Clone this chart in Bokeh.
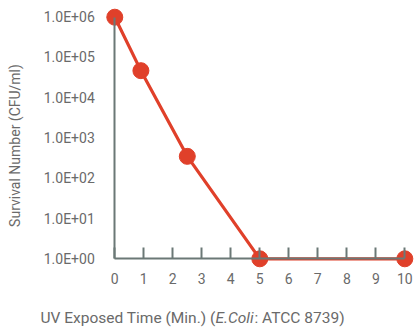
import math
from bokeh.plotting import figure
from bokeh.models import Label, FixedTicker, Range1d, CustomJSTickFormatter
from bokeh.embed import file_html
from bokeh.resources import INLINE

# data
exposure_min = [0, 0.9, 2.5, 5, 10]
survival_cfu = [1.0e6, 4.7e4, 3.5e2, 1.0, 1.0]
x_ticks = [0, 1, 2, 3, 4, 5, 6, 7, 8, 9, 10]
y_ticks = [1, 10, 100, 1000, 10000, 100000, 1000000]
y_tick_labels = ["1.0E+00", "1.0E+01", "1.0E+02", "1.0E+03", "1.0E+04", "1.0E+05", "1.0E+06"]

RED = "#e0402a"
AXIS = "#6b7876"
TXT = "#6a6a6a"
FONT = "Roboto"

p = figure(width=414, height=329, y_axis_type="log", output_backend="svg",
           toolbar_location=None,
           x_range=Range1d(-3.941, 10.334),
           y_range=Range1d(10 ** -1.7557, 10 ** 6.4147),
           min_border=0)
p.outline_line_color = None
p.grid.visible = False
p.background_fill_color = "white"
p.border_fill_color = "white"

p.line(exposure_min, survival_cfu, line_color=RED, line_width=3.2)
p.scatter(exposure_min, survival_cfu, size=16, fill_color=RED, line_color=RED)

xa = p.xaxis[0]
xa.fixed_location = 1
xa.bounds = (0, 10)
xa.ticker = FixedTicker(ticks=x_ticks)
xa.axis_line_color = AXIS
xa.axis_line_width = 2
xa.major_tick_line_color = AXIS
xa.major_tick_line_width = 2
xa.major_tick_in = 11
xa.major_tick_out = 0
xa.minor_tick_line_color = None
xa.major_label_standoff = 14
xa.major_label_text_font = FONT
xa.major_label_text_font_size = "14px"
xa.major_label_text_color = TXT

ya = p.yaxis[0]
ya.fixed_location = 0
ya.bounds = (1, 1e6)
ya.ticker = FixedTicker(ticks=y_ticks)
ya.formatter = CustomJSTickFormatter(
    args=dict(tvals=y_ticks, tlabels=y_tick_labels),
    code="""
    for (let i = 0; i < tvals.length; i++) {
        if (Math.abs(Math.log10(tvals[i]) - Math.log10(tick)) < 1e-6) return tlabels[i];
    }
    return '';
    """)
ya.axis_line_color = AXIS
ya.axis_line_width = 2
ya.major_tick_line_color = None
ya.major_tick_in = 0
ya.major_tick_out = 0
ya.minor_tick_line_color = None
ya.major_label_standoff = 20
ya.major_label_text_font = FONT
ya.major_label_text_font_size = "14px"
ya.major_label_text_color = TXT

# axis titles
p.add_layout(Label(x=14, y=184, x_units="screen", y_units="screen", angle=math.pi / 2,
                   text="Survival Number (CFU/ml)", text_font=FONT, text_font_size="14px",
                   text_color=TXT, text_align="center", text_baseline="middle"))
p.add_layout(Label(x=40, y=12, x_units="screen", y_units="screen",
                   text="UV Exposed Time (Min.) (", text_font=FONT, text_font_size="15.5px",
                   text_color=TXT, text_align="left", text_baseline="middle"))
p.add_layout(Label(x=215, y=12, x_units="screen", y_units="screen",
                   text="E.Coli", text_font=FONT, text_font_size="15.5px", text_font_style="italic",
                   text_color=TXT, text_align="left", text_baseline="middle"))
p.add_layout(Label(x=254, y=12, x_units="screen", y_units="screen",
                   text=": ATCC 8739)", text_font=FONT, text_font_size="15.5px",
                   text_color=TXT, text_align="left", text_baseline="middle"))

open("out.html", "w").write(file_html(p, INLINE))
